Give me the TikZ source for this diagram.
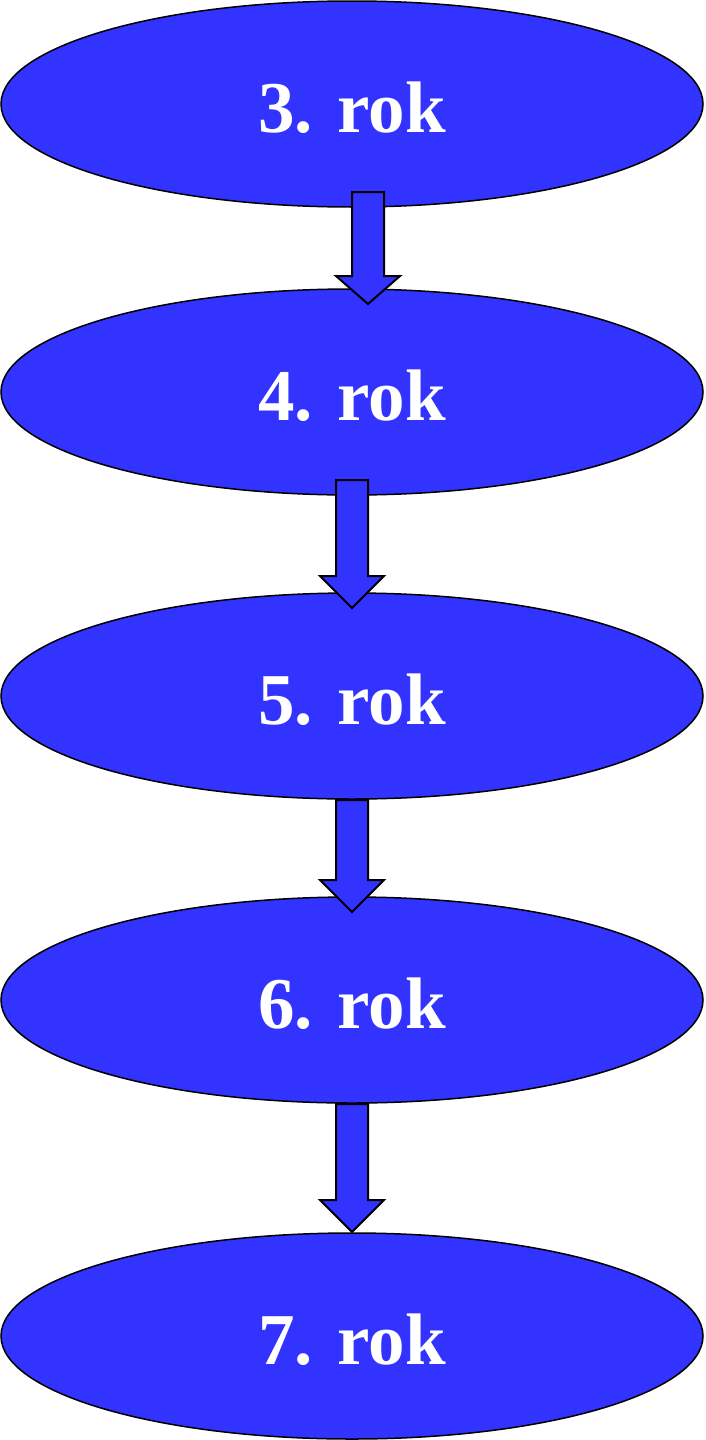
\documentclass[tikz,border=0pt]{standalone}
\usepackage{fontspec}
\setmainfont{Liberation Serif}
\usetikzlibrary{shapes.geometric}
\definecolor{yblue}{HTML}{3333FF}
\tikzset{
  year/.style={ellipse, draw=black, line width=1.5pt, fill=yblue, inner sep=0pt,
    minimum width=702pt, minimum height=206pt, text=white,
    font=\fontsize{73}{73}\selectfont\bfseries, text height=56pt, text depth=0pt},
  blockarr/.style={draw=black, line width=2pt, fill=yblue, line join=miter}
}
\newcommand{\blockarrow}[5]{% name, center x, top y, head y, tip y
  \coordinate (#1t) at (#2,#3);
  \coordinate (#1p) at (#2,#5);
  \draw[blockarr] ($(#1t)+(-16,0)$) -- ($(#1t)+(16,0)$) -- (#2+16,#4) -- (#2+32,#4)
    -- (#1p) -- (#2-32,#4) -- (#2-16,#4) -- cycle;
}
\usetikzlibrary{calc}
\begin{document}
\begin{tikzpicture}[x=1pt,y=-1pt]
\useasboundingbox (0,0) rectangle (705,1440);
\node[year] (e3) at (352,104) {3. rok};
\node[year] (e4) at (352,392) {4. rok};
\node[year] (e5) at (352,696) {5. rok};
\node[year] (e6) at (352,1000) {6. rok};
\node[year] (e7) at (352,1336) {7. rok};
\blockarrow{a1}{368}{192}{276}{304}
\blockarrow{a2}{352}{480}{576}{608}
\blockarrow{a3}{352}{800}{880}{912}
\blockarrow{a4}{352}{1104}{1200}{1232}
\end{tikzpicture}
\end{document}
